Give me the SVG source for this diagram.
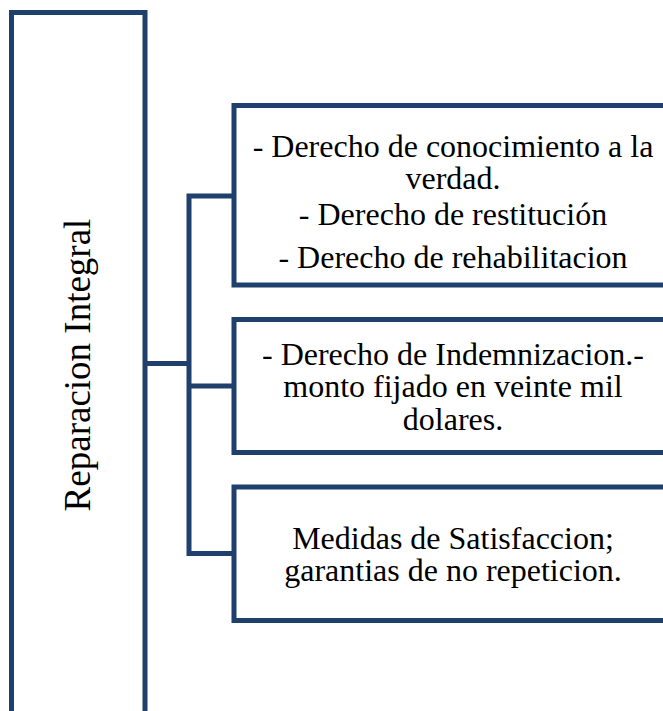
<svg xmlns="http://www.w3.org/2000/svg" width="663" height="711" viewBox="0 0 663 711">
<style>
.box{fill:#ffffff;stroke:#1f3f6d;stroke-width:5}
.conn{fill:none;stroke:#1f3f6d;stroke-width:5;stroke-linejoin:miter}
</style>
<rect width="663" height="711" fill="#ffffff"/>
<g id="root">
<rect class="box" x="11.5" y="12.5" width="133.5" height="720"/>
<text font-family="'Liberation Serif', 'Times New Roman', serif" font-size="37" fill="#000" text-anchor="middle" transform="translate(90,365) rotate(-90)">Reparacion Integral</text>
</g>
<g id="connectors">
<path class="conn" d="M145 363.5 H189"/>
<path class="conn" d="M234 196 H189 V553.5 H234"/>
<path class="conn" d="M189 386 H234"/>
</g>
<g id="node1">
<rect class="box" x="234" y="105.5" width="440" height="179.5"/>
<g font-family="'Liberation Serif', 'Times New Roman', serif" font-size="32" fill="#000" text-anchor="middle">
<text x="453" y="157">- Derecho de conocimiento a la</text>
<text x="453" y="189">verdad.</text>
<text x="453" y="225">- Derecho de restitución</text>
<text x="453" y="268">- Derecho de rehabilitacion</text>
</g>
</g>
<g id="node2">
<rect class="box" x="234" y="319.5" width="440" height="133"/>
<g font-family="'Liberation Serif', 'Times New Roman', serif" font-size="32" fill="#000" text-anchor="middle">
<text x="453" y="365">- Derecho de Indemnizacion.-</text>
<text x="453" y="397">monto fijado en veinte mil</text>
<text x="453" y="430">dolares.</text>
</g>
</g>
<g id="node3">
<rect class="box" x="234" y="487" width="440" height="133.5"/>
<g font-family="'Liberation Serif', 'Times New Roman', serif" font-size="32" fill="#000" text-anchor="middle">
<text x="453" y="549">Medidas de Satisfaccion;</text>
<text x="453" y="581">garantias de no repeticion.</text>
</g>
</g>
</svg>
